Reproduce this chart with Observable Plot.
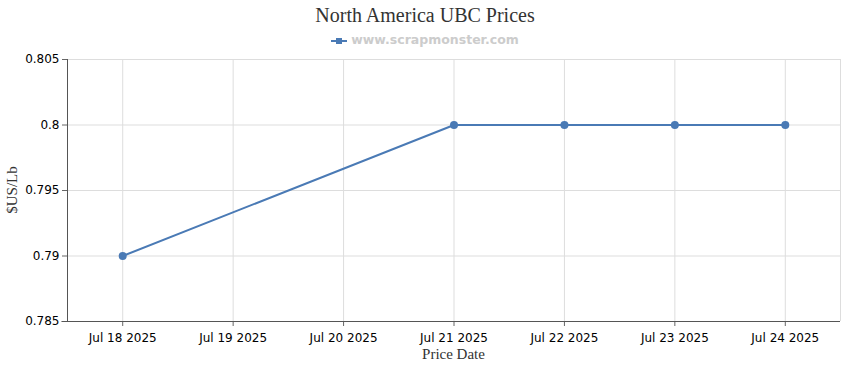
<!DOCTYPE html>
<html><head><meta charset="utf-8">
<script src="https://cdn.jsdelivr.net/npm/d3@7"></script>
<script src="https://cdn.jsdelivr.net/npm/@observablehq/plot@0.6"></script>
<style>
body{margin:0;background:#fff;}
#wrap{width:850px;}
#title{height:30px;text-align:center;font-family:"Liberation Serif","DejaVu Serif",serif;font-size:20px;color:#333;padding-top:4px;box-sizing:border-box;line-height:22px;}
#legend{height:20px;text-align:center;font-family:"DejaVu Sans",Verdana,sans-serif;font-weight:bold;font-size:12.5px;color:#ccc;line-height:20px;}
#legend svg{vertical-align:middle;margin-right:4px;}
</style></head><body>
<div id="wrap">
<div id="title">North America UBC Prices</div>
<div id="legend"><svg width="16" height="10"><line x1="0" y1="5" x2="16" y2="5" stroke="#4a7ab5" stroke-width="2"/><rect x="5" y="2" width="6" height="6" fill="#4a7ab5"/></svg>www.scrapmonster.com</div>
<div id="chart"></div>
</div>
<script>
const dates = ["2025-07-18","2025-07-21","2025-07-22","2025-07-23","2025-07-24"];
const prices = [0.79, 0.80, 0.80, 0.80, 0.80];
const tickDates = ["2025-07-18","2025-07-19","2025-07-20","2025-07-21","2025-07-22","2025-07-23","2025-07-24"];
const yTicks = [0.785, 0.79, 0.795, 0.8, 0.805];

const data = dates.map((d, i) => ({date: new Date(d + "T00:00:00Z"), price: prices[i]}));
const xt = tickDates.map(d => new Date(d + "T00:00:00Z"));
const half = 12 * 3600 * 1000;
const fmt = d3.utcFormat("%b %d %Y");
const color = "#4a7ab5";

const chart = Plot.plot({
  width: 850, height: 320,
  marginTop: 9, marginBottom: 49, marginLeft: 67, marginRight: 10,
  style: {fontFamily: "Tahoma, 'DejaVu Sans', sans-serif", fontSize: "12px", color: "#000"},
  x: {type: "utc", domain: [new Date(xt[0] - half), new Date(+xt[xt.length-1] + half)]},
  y: {domain: [0.785, 0.805]},
  marks: [
    Plot.gridX(xt, {stroke: "#ddd", strokeOpacity: 1}),
    Plot.gridY(yTicks, {stroke: "#ddd", strokeOpacity: 1}),
    Plot.ruleX([new Date(+xt[xt.length-1] + half)], {stroke: "#ddd"}),
    Plot.axisX(xt, {tickFormat: fmt, tickSize: 5, tickPadding: 7, label: null, fontSize: 12, stroke: "#666"}),
    Plot.axisY(yTicks, {tickFormat: d => String(+d.toFixed(3)), tickSize: 5, tickPadding: 3, label: null, fontSize: 12, stroke: "#666"}),
    Plot.ruleY([0.785], {stroke: "#555", x1: new Date(xt[0] - 1.1*half), x2: new Date(+xt[xt.length-1] + half), clip: false}),
    Plot.ruleX([new Date(xt[0] - half)], {stroke: "#555"}),
    Plot.line(data, {x: "date", y: "price", stroke: color, strokeWidth: 2}),
    Plot.dot(data, {x: "date", y: "price", fill: color, r: 4})
  ]
});
document.getElementById("chart").appendChild(chart);

// axis titles as real text
const svg = d3.select(chart);
svg.append("text").attr("x", (67 + 840) / 2).attr("y", 309)
  .attr("text-anchor", "middle").attr("font-family", "'Liberation Serif', serif").attr("font-size", 15).attr("fill", "#333")
  .text("Price Date");
svg.append("text").attr("transform", "translate(17,140) rotate(-90)")
  .attr("text-anchor", "middle").attr("font-family", "'Liberation Serif', serif").attr("font-size", 15).attr("fill", "#333")
  .text("$US/Lb");
</script>
</body></html>
